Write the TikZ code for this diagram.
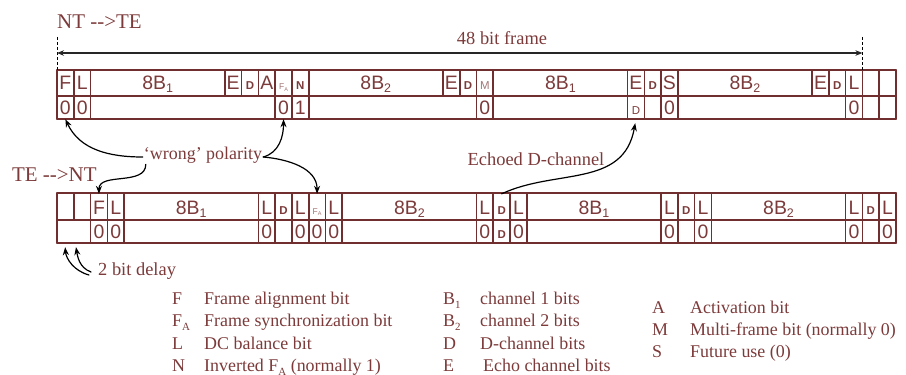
\documentclass[tikz,border=0pt]{standalone}
\usepackage{fontspec}
\setmainfont{Liberation Serif}
\setsansfont{Liberation Sans}
\usetikzlibrary{arrows.meta}
\definecolor{wine}{RGB}{112,46,46}
\definecolor{winetxt}{RGB}{124,58,58}
\newcommand\fsz[1]{\fontsize{#1}{#1}\selectfont}
\newcommand\dbit{{\fsz{11.5}\bfseries D}}
\newcommand\nbit{{\fsz{11.5}\bfseries N}}
\newcommand\mbit{{\fsz{11.5}\color{winetxt!70}M}}
\newcommand\fabit{{\fsz{8.5}\color{winetxt!70}F\raisebox{-1.5bp}{\fsz{5.5}A}}}
\newcommand\dsmall{{\fsz{11.5}D}}
\newcommand\Bone{8B\raisebox{-3bp}{\fsz{12.5}1}}
\newcommand\Btwo{8B\raisebox{-3bp}{\fsz{12.5}2}}
\begin{document}
\begin{tikzpicture}[x=1bp, y=1bp, >={Stealth[length=8bp,width=6bp]}, line join=round, line cap=round,
	frame/.style={wine, line width=1.6bp},
	cell/.style={minimum width=#1*16.78bp, inner sep=0pt, text height=13bp, text depth=0pt, font=\sffamily\fsz{19.5}, text=winetxt},
	cell/.default=1,
	lbl/.style={font=\fsz{18.5}, text=winetxt, inner sep=1bp},
	leg/.style={font=\fsz{18}, text=winetxt, anchor=base west, inner sep=0pt},
	arr/.style={->, black, line width=1.2bp}]
	\useasboundingbox (0,0) rectangle (906,374);
	\def\u{16.78} \def\xo{57} % bit width, left edge
	\def\ya{304} \def\yb{278} \def\yc{255} % NT -> TE
	\def\yd{181} \def\ye{154} \def\yf{131} % TE -> NT
	%%% NT -->TE frame
	\draw[frame] (\xo,\ya) -- ++(50*\u,0) (\xo,\yb) -- ++(50*\u,0) (\xo,\yc) -- ++(50*\u,0);
	\foreach \c in {0,1,2,10,11,12,13,14,15,23,24,25,26,34,35,36,37,45,46,47,48,49,50}{
		\draw[frame] (\xo+\c*\u,\ya) -- (\xo+\c*\u,\yb);
	}
	\foreach \c in {0,1,2,13,14,15,25,26,34,35,36,37,47,48,49,50}{
		\draw[frame] (\xo+\c*\u,\yb) -- (\xo+\c*\u,\yc);
	}
	\foreach \c/\t in {0/F,1/L,10/E,11/\dbit,12/A,13/\fabit,14/\nbit,23/E,24/\dbit,25/\mbit,34/E,35/\dbit,36/S,45/E,46/\dbit,47/L}{
		\node[cell, minimum height=26bp] (n\c) at (\xo+\c*\u+\u/2,291) {\t};
	}
	\foreach \c/\t in {2/\Bone,15/\Btwo,26/\Bone,37/\Btwo}{
		\node[cell=8, minimum height=26bp] (n\c) at (\xo+\c*\u+4*\u,291) {\t};
	}
	\foreach \c/\t in {0/0,1/0,13/0,14/1,25/0,34/\dsmall,36/0,47/0}{
		\node[cell, minimum height=23bp] (nb\c) at (\xo+\c*\u+\u/2,266.5) {\t};
	}
	%%% TE -->NT frame
	\draw[frame] (\xo,\yd) -- ++(50*\u,0) (\xo,\ye) -- ++(50*\u,0) (\xo,\yf) -- ++(50*\u,0);
	\foreach \c in {0,1,2,3,4,12,13,14,15,16,17,25,26,27,28,36,37,38,39,47,48,49,50}{
		\draw[frame] (\xo+\c*\u,\yd) -- (\xo+\c*\u,\ye);
	}
	\foreach \c in {0,2,3,4,12,13,14,15,16,17,25,26,27,28,36,37,38,39,47,48,49,50}{
		\draw[frame] (\xo+\c*\u,\ye) -- (\xo+\c*\u,\yf);
	}
	\foreach \c/\t in {2/F,3/L,12/L,13/\dbit,14/L,15/\fabit,16/L,25/L,26/\dbit,27/L,36/L,37/\dbit,38/L,47/L,48/\dbit,49/L}{
		\node[cell, minimum height=27bp] (t\c) at (\xo+\c*\u+\u/2,166.5) {\t};
	}
	\foreach \c/\t in {4/\Bone,17/\Btwo,28/\Bone,39/\Btwo}{
		\node[cell=8, minimum height=27bp] (t\c) at (\xo+\c*\u+4*\u,166.5) {\t};
	}
	\foreach \c/\t in {2/0,3/0,12/0,14/0,15/0,16/0,25/0,26/\dbit,27/0,36/0,38/0,47/0,49/0}{
		\node[cell, minimum height=23bp] (tb\c) at (\xo+\c*\u+\u/2,142.5) {\t};
	}
	\node[cell=2, minimum height=23bp] (dly) at (\xo+\u,142.5) {};
	%%% titles
	\node[lbl, font=\fsz{21}, anchor=west, inner sep=0pt] (nt) at (57,352) {NT \mbox{-}\mbox{-}>TE};
	\node[lbl, font=\fsz{21}, anchor=west, inner sep=0pt] (te) at (12,199) {TE \mbox{-}\mbox{-}>NT};
	%%% 48 bit frame
	\coordinate (fs) at (\xo,321);
	\coordinate (fe) at (\xo+48*\u,321);
	\draw[dash pattern=on 3bp off 2bp, line width=0.9bp, line cap=butt] ([yshift=16bp]fs) -- ([yshift=-17bp]fs) ([yshift=16bp]fe) -- ([yshift=-17bp]fe);
	\draw[<->, line width=1.2bp, >={Stealth[length=7bp,width=5.5bp]}, draw=black!85] (fs) -- (fe);
	\node[lbl] (fl) at (502,336) {48 bit frame};
	%%% polarity
	\node[lbl, font=\fsz{18}] (wp) at (203,219) {‘wrong’ polarity};
	\draw[arr] ([yshift=-2bp]wp.west) to[out=180,in=-65] (nb0.south);
	\draw[arr] ([yshift=-2bp]wp.east) to[out=15,in=-90] (nb13.south);
	\draw[arr] ([xshift=3bp]wp.south west) to[out=-90,in=90] (t2.north);
	\draw[arr] ([yshift=-2bp]wp.east) to[out=-5,in=90] (t15.north);
	%%% echo
	\node[lbl] (echo) at (536,215) {Echoed D-channel};
	\draw[arr, shorten >=4bp] (t26.north) .. controls +(25:60) and +(-100:70) .. (nb34.south);
	%%% delay
	\node[lbl, anchor=west] (dl) at (97,103) {2 bit delay};
	\draw[arr, shorten >=4bp] ([xshift=-8bp,yshift=-4bp]dl.west) to[out=165,in=-85] ([xshift=-9bp]dly.south);
	\draw[arr, shorten >=4bp] ([xshift=-6bp,yshift=-1bp]dl.west) to[out=160,in=-80] ([xshift=1.5bp]dly.south);
	%%% legend
	\foreach \s/\t [count=\i] in {F/Frame alignment bit, F\raisebox{-4bp}{\fsz{11}A}/Frame synchronization bit, L/DC balance bit, N/Inverted F\raisebox{-4bp}{\fsz{11}A} (normally 1)}{
		\node[leg] (la\i) at (172,92.5-22.5*\i) {\s};
		\node[leg] (lb\i) at (204,92.5-22.5*\i) {\t};
	}
	\foreach \s/\t [count=\i] in {B\raisebox{-4bp}{\fsz{11}1}/channel 1 bits, B\raisebox{-4bp}{\fsz{11}2}/channel 2 bits, D/D-channel bits, E/{\,}Echo channel bits}{
		\node[leg] (lc\i) at (443,92.5-22.5*\i) {\s};
		\node[leg] (ld\i) at (480,92.5-22.5*\i) {\t};
	}
	\foreach \s/\t [count=\i] in {A/Activation bit, M/Multi-frame bit (normally 0), S/Future use (0)}{
		\node[leg] (le\i) at (652,83-22*\i) {\s};
		\node[leg] (lf\i) at (690,83-22*\i) {\t};
	}
\end{tikzpicture}
\end{document}
